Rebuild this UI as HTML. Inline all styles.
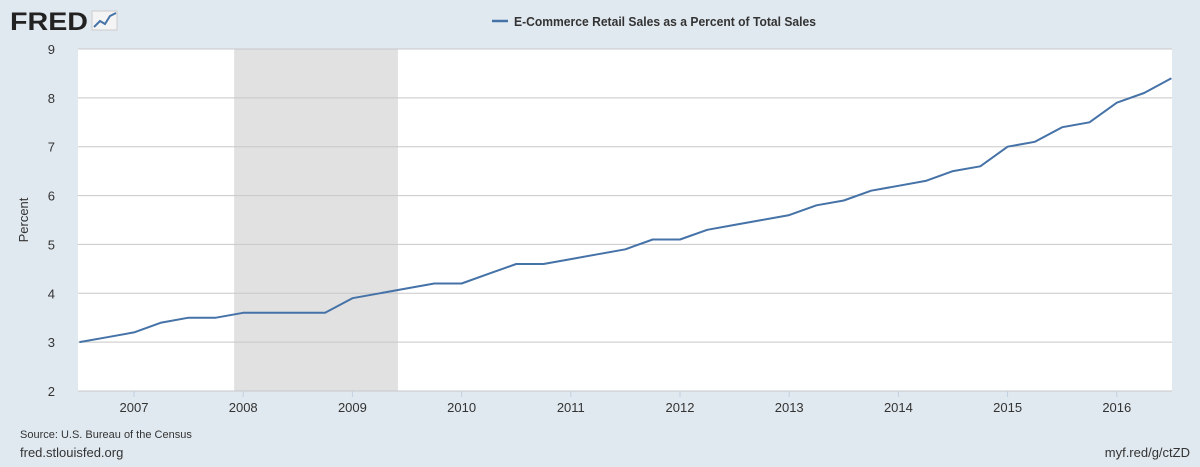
<!DOCTYPE html>
<html><head><meta charset="utf-8"><style>
html,body{margin:0;padding:0;background:#e1e9f0;}
body{width:1200px;height:462px;overflow:hidden;font-family:"Liberation Sans",sans-serif;}
</style></head><body>
<svg id="chart" width="1200" height="462">
<rect x="0" y="0" width="1200" height="462" fill="#e1e9f0"/>
<g>
<text x="10" y="30" font-size="25" font-weight="bold" fill="#222" textLength="78" lengthAdjust="spacingAndGlyphs">FRED</text>
<rect x="92" y="11" width="25" height="19" fill="#f4f4f4" stroke="#ccc"/>
<polyline points="94,27 100,21 105,24 110,16 116,13" fill="none" stroke="#4572a7" stroke-width="2"/>
</g>
<g>
<line x1="492" y1="21" x2="508" y2="21" stroke="#4572a7" stroke-width="2.5"/>
<text x="514" y="26" font-size="13" font-weight="600" fill="#333" textLength="302" lengthAdjust="spacingAndGlyphs">E-Commerce Retail Sales as a Percent of Total Sales</text>
</g>
<rect x="78" y="49" width="1094" height="342" fill="#fff"/>
<g id="rec"></g><g id="grid"></g><g id="xt"></g><g id="line"></g>
<text x="28" y="220" font-size="13" fill="#333" transform="rotate(-90 28 220)" text-anchor="middle">Percent</text>
<text x="20" y="438" font-size="11" fill="#333">Source: U.S. Bureau of the Census</text>
<text x="20" y="457" font-size="13" fill="#333">fred.stlouisfed.org</text>
<text x="1190" y="457" font-size="13" fill="#333" text-anchor="end">myf.red/g/ctZD</text>
</svg>
<script>
const values=[3.0,3.1,3.2,3.4,3.5,3.5,3.6,3.6,3.6,3.6,3.9,4.0,4.1,4.2,4.2,4.4,4.6,4.6,4.7,4.8,4.9,5.1,5.1,5.3,5.4,5.5,5.6,5.8,5.9,6.1,6.2,6.3,6.5,6.6,7.0,7.1,7.4,7.5,7.9,8.1,8.4];
const startYear=2006.5;
const yTicks=[2,3,4,5,6,7,8,9];
const xTicks=[2007,2008,2009,2010,2011,2012,2013,2014,2015,2016];
const recession=[2007.917,2009.417];
const NS="http://www.w3.org/2000/svg";
const X=t=>134+(t-2007)*109.2;
const Y=v=>391-(v-2)*(342/7);
function mk(tag,attrs,parent,txt){const e=document.createElementNS(NS,tag);for(const k in attrs)e.setAttribute(k,attrs[k]);if(txt!=null)e.textContent=txt;document.getElementById(parent).appendChild(e);return e;}
const r=mk('rect',{x:X(recession[0]),y:49,width:X(recession[1])-X(recession[0]),height:342,fill:'#e1e1e1'},'rec');


yTicks.forEach(v=>{
 const l=mk('line',{x1:78,x2:1172,y1:Y(v),y2:Y(v),stroke:'#c8c8c8','stroke-width':1},'grid');
 
 
 const t=mk('text',{x:55,y:Y(v)+5,'font-size':13,fill:'#333','text-anchor':'end'},'grid',v);
 
 
});
xTicks.forEach(yr=>{
 const l=mk('line',{x1:X(yr),x2:X(yr),y1:391,y2:397,stroke:'#c0d0e0'},'xt');
 
 
 const t=mk('text',{x:X(yr),y:412,'font-size':13,fill:'#333','text-anchor':'middle'},'xt',yr);
 
 
});
const pts=values.map((v,i)=>X(startYear+i*0.25).toFixed(1)+','+Y(v).toFixed(1)).join(' ');
const pl=mk('polyline',{points:pts,fill:'none',stroke:'#4572a7','stroke-width':2,'stroke-linejoin':'round'},'line');


</script>
</body></html>
